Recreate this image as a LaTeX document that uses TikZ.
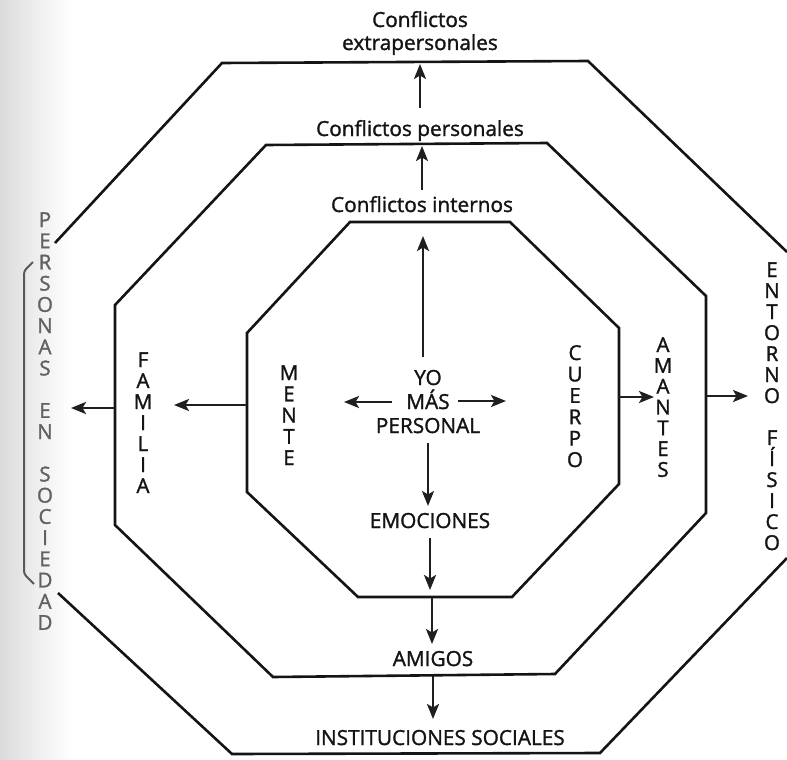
\documentclass[tikz,border=0pt]{standalone}
\usepackage{fontspec}
\setmainfont{Open Sans}
\newfontfamily\labelface{Open Sans}[FakeBold=1.4]
\usetikzlibrary{arrows.meta}
\newcommand\hlabelfont{\labelface\fontsize{20.8}{24}\selectfont}
\newcommand\vlabelfont{\labelface\fontsize{20.5}{21}\selectfont}
\begin{document}
\begin{tikzpicture}[x=1pt,y=-1pt,
  ink/.style={line width=2.6pt, draw=black!92, line join=miter},
  arr/.style={line width=2.6pt, draw=black!88, -{Stealth[length=15pt,width=12pt,inset=3.5pt]}},
  hlabel/.style={font=\hlabelfont, text=black!92, inner sep=0pt, anchor=base},
  vlabel/.style={font=\vlabelfont, text=black!92, inner sep=0pt, anchor=base},
  faded/.style={vlabel, text=black!62},
]
% page
\fill[white] (0,0) rectangle (787,760);
\useasboundingbox (0,0) rectangle (787,760);
\shade[left color=black!14, right color=white] (0,0) rectangle (70,760);

% outer ring (open on the left, runs off the right side)
\draw[ink] (55,243) -- (222,63) -- (588,61) -- (787,252);
\draw[ink] (787,558) -- (600,753) -- (232,754) -- (58,593);
% bracket holding the left-hand label
\draw[line width=2pt, draw=black!65, rounded corners=3pt]
  (33,262) -- (24,271) -- (24,574) -- (34,584);

% middle ring
\draw[ink] (115,305) -- (266,145) -- (547,143) -- (706,296) -- (706,513)
  -- (555,674) -- (273,677) -- (115,525) -- cycle;

% inner ring
\draw[ink] (247,333) -- (350,222) -- (510,222) -- (619,328) -- (619,484)
  -- (512,597) -- (358,597) -- (247,492) -- cycle;

% horizontal labels
\node[hlabel] (cext1) at (420,27) {Conflictos};
\node[hlabel] (cext2) at (420,50) {extrapersonales};
\node[hlabel] (cpers) at (420,136) {Conflictos personales};
\node[hlabel] (cint)  at (422,212) {Conflictos internos};
\node[hlabel] (yo1) at (428,385) {YO};
\node[hlabel] (yo2) at (428,409) {MÁS};
\node[hlabel] (yo3) at (428,433) {PERSONAL};
\node[hlabel] (emo) at (430,528) {EMOCIONES};
\node[hlabel] (ami) at (433,666) {AMIGOS};
\node[hlabel] (ins) at (440,745) {INSTITUCIONES SOCIALES};

% vertical labels, one letter per line
\foreach \ch [count=\k from 0] in {F,A,M,I,L,I,A}
  \node[vlabel] (fam\k) at (143,367+21*\k) {\ch};
\foreach \ch [count=\k from 0] in {M,E,N,T,E}
  \node[vlabel] (men\k) at (289,380+21.25*\k) {\ch};
\foreach \ch [count=\k from 0] in {C,U,E,R,P,O}
  \node[vlabel] (cue\k) at (575,360+21.4*\k) {\ch};
\foreach \ch [count=\k from 0] in {A,M,A,N,T,E,S}
  \node[vlabel] (ama\k) at (663,352+20.8*\k) {\ch};
\foreach \ch [count=\k from 0] in {E,N,T,O,R,N,O,{},F,Í,S,I,C,O}
  \node[vlabel] (ent\k) at (772,277+21*\k) {\ch};
\foreach \ch [count=\k from 0] in {P,E,R,S,O,N,A,S,{},E,N,{},S,O,C,I,E,D,A,D}
  \node[faded] (per\k) at (45,227+21.2*\k) {\ch};

% arrow end points
\coordinate (a1s) at (420,108);  \coordinate (a1e) at (420,64);
\coordinate (a2s) at (422,190);  \coordinate (a2e) at (422,146);
\coordinate (a3s) at (423,357);  \coordinate (a3e) at (423,236);
\coordinate (a4s) at (392,402);  \coordinate (a4e) at (344,402);
\coordinate (a5s) at (458,401);  \coordinate (a5e) at (506,401);
\coordinate (a6s) at (428,443);  \coordinate (a6e) at (428,506);
\coordinate (a7s) at (430,538);  \coordinate (a7e) at (430,590);
\coordinate (a8s) at (432,597);  \coordinate (a8e) at (432,644);
\coordinate (a9s) at (433,676);  \coordinate (a9e) at (433,719);
\coordinate (a10s) at (247,405); \coordinate (a10e) at (174,405);
\coordinate (a11s) at (115,408); \coordinate (a11e) at (71,408);
\coordinate (a12s) at (619,397); \coordinate (a12e) at (654,397);
\coordinate (a13s) at (706,396); \coordinate (a13e) at (748,396);

\foreach \i in {1,...,13}
  \draw[arr] (a\i s) -- (a\i e);
\end{tikzpicture}
\end{document}
